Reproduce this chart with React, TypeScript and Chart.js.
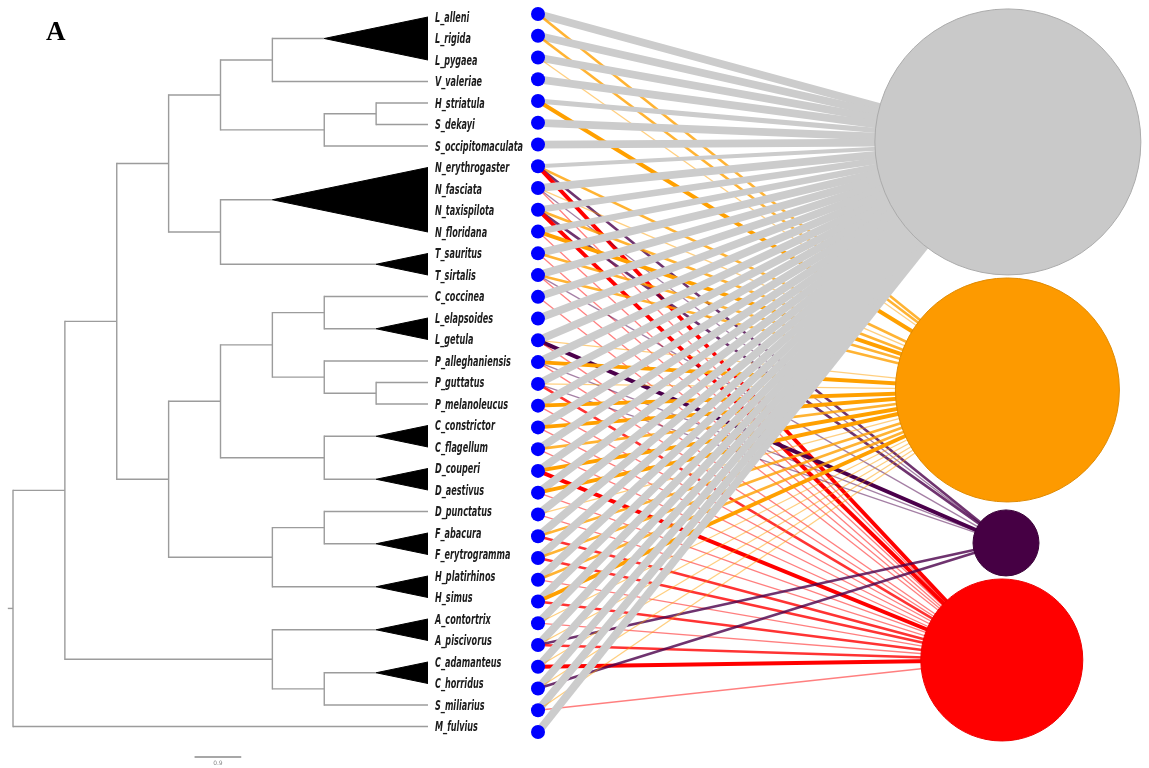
import { useEffect, useRef } from "react";
import { Chart, registerables } from "chart.js";

Chart.register(...registerables);

// ---------------- DATA ----------------
// Cladogram (branch lengths in node levels); "*" marks a collapsed clade (drawn as a triangle)
const cladeA =
  "((((L_alleni:2,L_rigida:2,L_pygaea:2)*:1,V_valeriae:3):1,((H_striatula:1,S_dekayi:1):1,S_occipitomaculata:2):2):1," +
  "((N_erythrogaster:3,N_fasciata:3,N_taxispilota:3,N_floridana:3)*:1,(T_sauritus:1,T_sirtalis:1)*:3):1)";
const cladeB =
  "((((C_coccinea:2,(L_elapsoides:1,L_getula:1)*:1):1,(P_alleghaniensis:2,(P_guttatus:1,P_melanoleucus:1):1):1):1," +
  "((C_constrictor:1,C_flagellum:1)*:1,(D_couperi:1,D_aestivus:1)*:1):2):1," +
  "((D_punctatus:2,(F_abacura:1,F_erytrogramma:1)*:1):1,(H_platirhinos:1,H_simus:1)*:2):2)";
const cladeV = "((A_contortrix:1,A_piscivorus:1)*:2,((C_adamanteus:1,C_horridus:1)*:1,S_miliarius:2):1)";
const treeNewick = "(((" + cladeA + ":1," + cladeB + ":1):1," + cladeV + ":4):1,M_fulvius:8):0.1;";

// Prey nodes (right-hand circles): gray, orange, purple, red
const preyNames = ["Prey group 1", "Prey group 2", "Prey group 3", "Prey group 4"];
const preySize = [133, 112, 33, 81];

// Interaction weights of each snake (tree order) with each prey group (0 = none)
const grayWeight = [6, 6, 6, 6, 4, 6, 6, 3, 6, 5, 5, 6, 6, 6, 6, 6, 6, 6, 6, 6, 6, 6, 6, 6, 6, 6, 6, 6, 6, 6, 6, 6, 6, 6];
const orangeWeight = [2, 2, 1, 0, 3, 0, 0, 2, 1, 2, 3, 2, 2, 0, 0, 1, 3, 1, 3, 3, 2, 3, 3, 1, 2, 2, 2, 3, 1, 1, 1, 1, 1, 0];
const purpleWeight = [0, 0, 0, 0, 0, 0, 0, 2, 1, 2, 0, 0, 1, 0, 0, 3, 1, 1, 0, 0, 0, 0, 0, 0, 0, 0, 0, 0, 0, 2, 0, 2, 0, 0];
const redWeight = [0, 0, 0, 0, 0, 0, 0, 3, 1, 3, 1, 1, 1, 1, 0, 1, 1, 2, 1, 1, 1, 3, 1, 1, 2, 2, 1, 2, 1, 2, 3, 0, 1, 0];

const scaleBarLength = 0.9;
const scaleBarLabel = "0.9";
const panelLabel = "A";

// ---------------- LAYOUT / STYLE ----------------
const W = 1149;
const H = 768;
const preyX = [1.004, 1.003, 1.0, 0.991];
const preyY = [5.88, 17.28, 24.31, 29.69];
const preyFill = ["#c9c9c9", "#fd9a00", "#460044", "#ff0000"];
const preyBorder = ["#ababab", "#e08a00", "#3a0038", "#ee0000"];
const edgeRGB = ["204,204,204", "255,160,0", "75,0,75", "255,0,0"];
const treeColor = "#9c9c9c";

type TNode = {
  name: string;
  len: number;
  children: TNode[];
  collapsed: boolean;
  depth: number;
  y: number;
  leaves: TNode[];
};

function parseNewick(s: string): TNode {
  let i = 0;
  const node = (): TNode => {
    const n: TNode = { name: "", len: 0, children: [], collapsed: false, depth: 0, y: 0, leaves: [] };
    if (s[i] === "(") {
      i++;
      n.children.push(node());
      while (s[i] === ",") {
        i++;
        n.children.push(node());
      }
      i++;
    }
    let name = "";
    while (i < s.length && !":,);".includes(s[i])) name += s[i++];
    if (name === "*") n.collapsed = true;
    else n.name = name;
    if (s[i] === ":") {
      i++;
      let num = "";
      while (i < s.length && !",);".includes(s[i])) num += s[i++];
      n.len = parseFloat(num);
    }
    return n;
  };
  return node();
}

function layoutTree(root: TNode) {
  const leaves: TNode[] = [];
  const walk = (n: TNode, depth: number) => {
    n.depth = depth;
    if (n.children.length === 0) {
      n.y = leaves.length;
      leaves.push(n);
      n.leaves = [n];
    } else {
      n.children.forEach((c) => walk(c, depth + c.len));
      n.y = (n.children[0].y + n.children[n.children.length - 1].y) / 2;
      n.leaves = n.children.flatMap((c) => c.leaves);
    }
  };
  walk(root, 0);
  return leaves;
}

const width = (w: number) => w * 1.3;
const alpha = (k: number, w: number) => (k === 0 ? 1 : [0, 0.5, 0.8, 1][Math.min(3, w)]);

export default function App() {
  const ref = useRef<HTMLCanvasElement>(null);

  useEffect(() => {
    document.body.style.margin = "0";
    const root = parseNewick(treeNewick);
    const leaves = layoutTree(root);
    const datasets: any[] = [];
    const push = (ds: any) => {
      ds.order = -datasets.length;
      datasets.push(ds);
      return datasets.length - 1;
    };
    const line = (pts: { x: number; y: number }[], color: string, w: number, xa: string, ya: string, extra: any = {}) =>
      push({
        type: "line",
        data: pts,
        borderColor: color,
        backgroundColor: color,
        borderWidth: w,
        pointRadius: 0,
        pointHoverRadius: 0,
        fill: false,
        tension: 0,
        clip: false,
        borderCapStyle: "butt",
        xAxisID: xa,
        yAxisID: ya,
        ...extra,
      });

    // tree
    line([{ x: -root.len, y: root.y }, { x: 0, y: root.y }], treeColor, 1.4, "xt", "yt");
    const drawNode = (n: TNode) => {
      if (n.collapsed) {
        const tipDepth = n.leaves[0].depth;
        const first = n.leaves[0].y;
        const last = n.leaves[n.leaves.length - 1].y;
        const b = line([{ x: n.depth, y: n.y }, { x: tipDepth, y: last }], "#000", 1, "xt", "yt");
        line([{ x: n.depth, y: n.y }, { x: tipDepth, y: first }], "#000", 1, "xt", "yt", { fill: b, backgroundColor: "#000" });
        return;
      }
      if (n.children.length) {
        const a = n.children[0].y;
        const z = n.children[n.children.length - 1].y;
        line([{ x: n.depth, y: a }, { x: n.depth, y: z }], treeColor, 1.4, "xt", "yt", { borderCapStyle: "square" });
        n.children.forEach((c) => {
          line([{ x: n.depth, y: c.y }, { x: c.depth, y: c.y }], treeColor, 1.4, "xt", "yt");
          drawNode(c);
        });
      }
    };
    drawNode(root);

    // scale bar
    line([{ x: 3.5, y: leaves.length + 0.42 }, { x: 3.5 + scaleBarLength, y: leaves.length + 0.42 }], "#8a8a8a", 1.4, "xt", "yt");

    // network edges, in order of snake
    const weights = [grayWeight, orangeWeight, purpleWeight, redWeight];
    leaves.forEach((_, i) => {
      weights.forEach((arr, k) => {
        const w = arr[i];
        if (!w) return;
        line(
          [{ x: 0, y: i }, { x: preyX[k], y: preyY[k] }],
          `rgba(${edgeRGB[k]},${alpha(k, w)})`,
          width(w),
          "xn",
          "yd"
        );
      });
    });

    // snake nodes
    push({
      type: "scatter",
      label: "snakes",
      data: leaves.map((_, i) => ({ x: 0, y: i })),
      pointRadius: 7,
      pointHoverRadius: 7,
      backgroundColor: "#0000ff",
      borderWidth: 0,
      clip: false,
      xAxisID: "xn",
      yAxisID: "yd",
    });

    // prey nodes
    push({
      type: "bubble",
      label: "prey",
      data: preyNames.map((_, k) => ({ x: preyX[k], y: preyY[k], r: preySize[k] })),
      backgroundColor: preyFill,
      borderColor: preyBorder,
      borderWidth: 1,
      clip: false,
      xAxisID: "xn",
      yAxisID: "yd",
    });

    const textPlugin = {
      id: "texts",
      afterDraw(chart: any) {
        const ctx = chart.ctx as CanvasRenderingContext2D;
        const xt = chart.scales.xt;
        const yt = chart.scales.yt;
        ctx.save();
        ctx.fillStyle = "#1c1c1c";
        ctx.font = 'italic 700 14px "Liberation Sans Narrow", "DejaVu Sans Condensed", "DejaVu Sans", sans-serif';
        ctx.textBaseline = "middle";
        ctx.textAlign = "left";
        const widest = Math.max(...leaves.map((l) => ctx.measureText(l.name).width));
        const sx = 88 / widest;
        leaves.forEach((l) => {
          const px = xt.getPixelForValue(l.depth) + 7;
          const py = yt.getPixelForValue(l.y) + 1;
          ctx.save();
          ctx.translate(px, py);
          ctx.scale(sx, 1);
          ctx.fillText(l.name, 0, 0);
          ctx.restore();
        });
        // panel label
        ctx.fillStyle = "#000";
        ctx.font = '700 27px "Liberation Serif", "DejaVu Serif", serif';
        ctx.textBaseline = "alphabetic";
        ctx.fillText(panelLabel, 46, 40);
        // scale label
        ctx.fillStyle = "#888";
        ctx.font = '6px "DejaVu Sans", sans-serif';
        ctx.textAlign = "center";
        ctx.textBaseline = "top";
        ctx.fillText(scaleBarLabel, xt.getPixelForValue(3.5 + scaleBarLength / 2), yt.getPixelForValue(leaves.length + 0.42) + 3);
        ctx.restore();
      },
    };

    const chart = new Chart(ref.current!, {
      type: "scatter",
      data: { datasets },
      options: {
        animation: false,
        responsive: false,
        devicePixelRatio: 1,
        events: [],
        layout: { padding: 0, autoPadding: false },
        plugins: { legend: { display: false }, tooltip: { enabled: false }, title: { display: false } },
        scales: {
          xt: { type: "linear", axis: "x", display: false, min: -13 / 51.875, max: -13 / 51.875 + W / 51.875 },
          yt: { type: "linear", axis: "y", display: false, reverse: true, min: -0.791, max: -0.791 + (H * 33) / 709.5 },
          xn: { type: "linear", axis: "x", display: false, min: -538 / 468, max: -538 / 468 + W / 468 },
          yd: { type: "linear", axis: "y", display: false, reverse: true, min: -0.6435, max: -0.6435 + (H * 33) / 718 },
        },
      } as any,
      plugins: [textPlugin],
    });
    return () => chart.destroy();
  }, []);

  return (
    <div style={{ width: W, height: H, position: "relative", background: "#fff" }}>
      <canvas ref={ref} width={W} height={H} style={{ display: "block", width: W, height: H }} />
    </div>
  );
}
